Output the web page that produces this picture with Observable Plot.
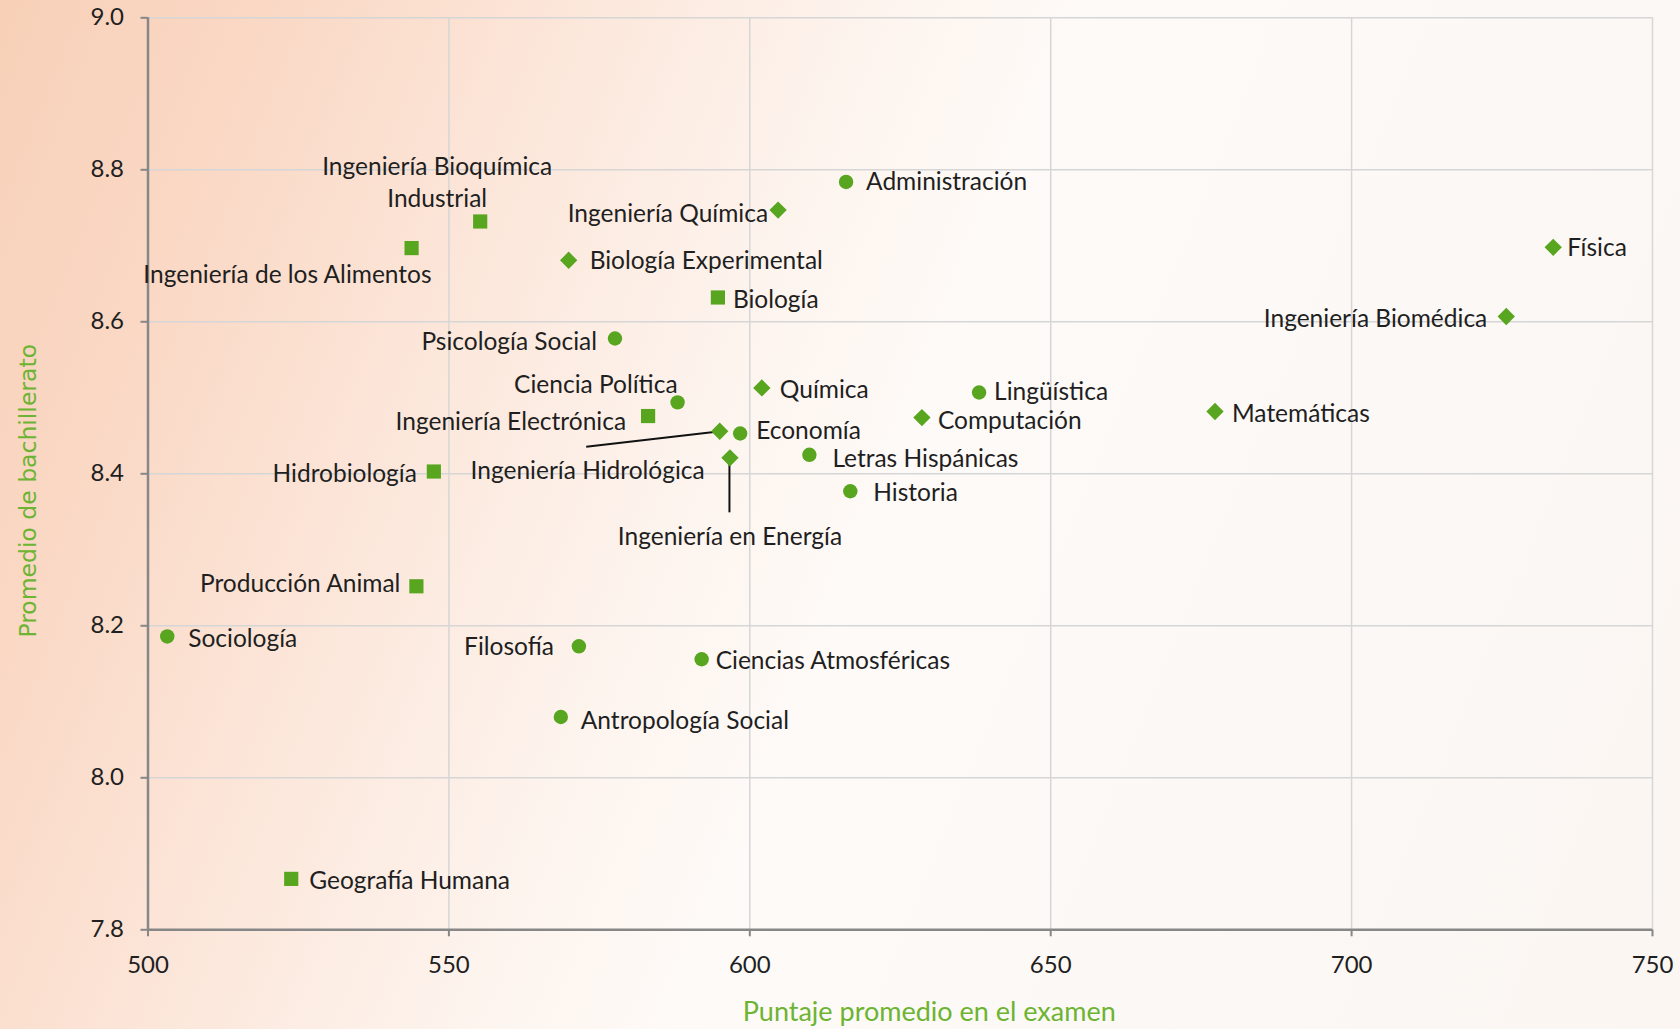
<!DOCTYPE html>
<html>
<head>
<meta charset="utf-8">
<script src="https://cdn.jsdelivr.net/npm/d3@7"></script>
<script src="https://cdn.jsdelivr.net/npm/@observablehq/plot@0.6"></script>
<style>
  html, body { margin: 0; padding: 0; width: 1680px; height: 1029px; overflow: hidden; }
  body {
    background: linear-gradient(112deg, #f8d0b8 0%, #fad9c6 14%, #fce7db 28%, #fdf4ee 42%, #fefaf7 52%, #fcf8f5 75%, #fbf6f2 100%);
  }
  #chart svg { display: block; }
</style>
</head>
<body>
<div id="chart"></div>
<script>
// ---- Data ----
const carreras = [
  "Ingeniería de los Alimentos", "Ingeniería Bioquímica\nIndustrial", "Ingeniería Química", "Administración",
  "Biología Experimental", "Biología", "Psicología Social", "Ciencia Política", "Química", "Lingüística",
  "Computación", "Ingeniería Electrónica", "Ingeniería Hidrológica", "Economía", "Ingeniería en Energía",
  "Letras Hispánicas", "Historia", "Física", "Ingeniería Biomédica", "Matemáticas", "Hidrobiología",
  "Producción Animal", "Sociología", "Filosofía", "Ciencias Atmosféricas", "Antropología Social", "Geografía Humana"
];
const puntajeExamen = [
  543.8, 555.2, 604.7, 616.0,
  569.9, 594.7, 577.6, 588.0, 602.0, 638.1,
  628.6, 583.1, 595.0, 598.4, 596.7,
  609.9, 616.7, 733.5, 725.7, 677.3, 547.5,
  544.6, 503.2, 571.6, 592.0, 568.6, 523.8
];
const promedioBachillerato = [
  8.697, 8.732, 8.747, 8.784,
  8.681, 8.632, 8.578, 8.494, 8.513, 8.507,
  8.474, 8.476, 8.456, 8.453, 8.421,
  8.425, 8.377, 8.698, 8.607, 8.482, 8.403,
  8.252, 8.186, 8.173, 8.156, 8.080, 7.867
];
// marker group: C = circle, D = diamond, S = square
const grupo = [
  "S", "S", "D", "C",
  "D", "S", "C", "C", "D", "C",
  "D", "S", "D", "C", "D",
  "C", "C", "D", "D", "D", "S",
  "S", "C", "C", "C", "C", "S"
];
const xTicks = [500, 550, 600, 650, 700, 750];
const yTicks = [7.8, 8.0, 8.2, 8.4, 8.6, 8.8, 9.0];
const xTitle = "Puntaje promedio en el examen";
const yTitle = "Promedio de bachillerato";

// ---- Layout (label placement relative to each point, in px) ----
const labelLayout = {
  "Ingeniería de los Alimentos": ["end", 20, 25],
  "Ingeniería Bioquímica\nIndustrial": ["middle", -43, -41],
  "Ingeniería Química": ["end", -10, 2],
  "Administración": ["start", 20, -2],
  "Biología Experimental": ["start", 21, -1],
  "Biología": ["start", 15, 0],
  "Psicología Social": ["end", -18, 1],
  "Ciencia Política": ["end", 0, -20],
  "Química": ["start", 18, 0],
  "Lingüística": ["start", 15, -3],
  "Computación": ["start", 16, 1],
  "Ingeniería Electrónica": ["end", -22, 4],
  "Ingeniería Hidrológica": ["end", -15, 38],
  "Economía": ["start", 16, -5],
  "Ingeniería en Energía": ["middle", 0, 77],
  "Letras Hispánicas": ["start", 23, 2],
  "Historia": ["start", 23, 0],
  "Física": ["start", 14, -2],
  "Ingeniería Biomédica": ["end", -19, 0],
  "Matemáticas": ["start", 17, 0],
  "Hidrobiología": ["end", -17, 0],
  "Producción Animal": ["end", -16, -4],
  "Sociología": ["start", 21, 0],
  "Filosofía": ["end", -25, -2],
  "Ciencias Atmosféricas": ["start", 14, 0],
  "Antropología Social": ["start", 20, 2],
  "Geografía Humana": ["start", 18, 0]
};
const leaders = {
  "Ingeniería Hidrológica": [-3, 1, -133, 16],
  "Ingeniería en Energía": [0, 5, 0, 55]
};

const data = carreras.map((c, i) => ({
  carrera: c, x: puntajeExamen[i], y: promedioBachillerato[i], g: grupo[i]
}));

const green = "#58a51f";
const labelFont = "Lato, 'Open Sans', sans-serif";

const labelMarks = data.map(d => {
  const [anchor, dx, dy] = labelLayout[d.carrera];
  return Plot.text([d], {
    x: "x", y: "y", text: "carrera", textAnchor: anchor, dx, dy,
    fontSize: 24.5, fill: "#1f1f1f", lineHeight: 1.3, fontFamily: labelFont
  });
});

function leaderMark(index, scales, values, dimensions, context) {
  const g = d3.create("svg:g").attr("stroke", "#111").attr("stroke-width", 2);
  for (const d of data) {
    const L = leaders[d.carrera];
    if (!L) continue;
    const px = scales.x(d.x), py = scales.y(d.y);
    g.append("line")
      .attr("x1", px + L[0]).attr("y1", py + L[1])
      .attr("x2", px + L[2]).attr("y2", py + L[3]);
  }
  return g.node();
}

const chart = Plot.plot({
  width: 1680,
  height: 1029,
  marginLeft: 147.5,
  marginRight: 28,
  marginTop: 17.3,
  marginBottom: 99.7,
  style: { background: "transparent", fontFamily: labelFont, fontSize: "24px", color: "#1f1f1f", overflow: "visible" },
  x: { domain: [500, 750] },
  y: { domain: [7.8, 9.0] },
  marks: [
    Plot.gridX(xTicks, { stroke: "#d6d6d6", strokeOpacity: 1, strokeWidth: 1.5 }),
    Plot.gridY(yTicks, { stroke: "#d6d6d6", strokeOpacity: 1, strokeWidth: 1.5 }),
    Plot.axisX({ ticks: xTicks, tickFormat: d => String(d), tickSize: 7, tickPadding: 19, stroke: "#878787", strokeWidth: 2, fontSize: 24, label: null }),
    Plot.axisY({ ticks: yTicks, tickFormat: d => d.toFixed(1), tickSize: 7, tickPadding: 17, stroke: "#878787", strokeWidth: 2, fontSize: 24, label: null }),
    Plot.ruleX([500], { stroke: "#878787", strokeWidth: 2.5 }),
    Plot.ruleY([7.8], { stroke: "#878787", strokeWidth: 2.5 }),
    leaderMark,
    Plot.dot(data.filter(d => d.g === "C"), { x: "x", y: "y", symbol: "circle", r: 7.2, fill: green, stroke: "none" }),
    Plot.dot(data.filter(d => d.g === "D"), { x: "x", y: "y", symbol: "diamond2", r: 7.8, fill: green, stroke: "none" }),
    Plot.dot(data.filter(d => d.g === "S"), { x: "x", y: "y", symbol: "square", r: 8, fill: green, stroke: "none" }),
    ...labelMarks,
    Plot.text([xTitle], { frameAnchor: "bottom", textAnchor: "middle", lineAnchor: "middle", dx: 29, dy: 83, fontSize: 27, fill: "#6cb432", fontFamily: labelFont }),
    Plot.text([yTitle], { frameAnchor: "left", textAnchor: "middle", lineAnchor: "middle", dx: -120, dy: 17, rotate: -90, fontSize: 23.5, fill: "#6cb432", fontFamily: "'DejaVu Sans', sans-serif" })
  ]
});
document.getElementById("chart").append(chart);
</script>
</body>
</html>
